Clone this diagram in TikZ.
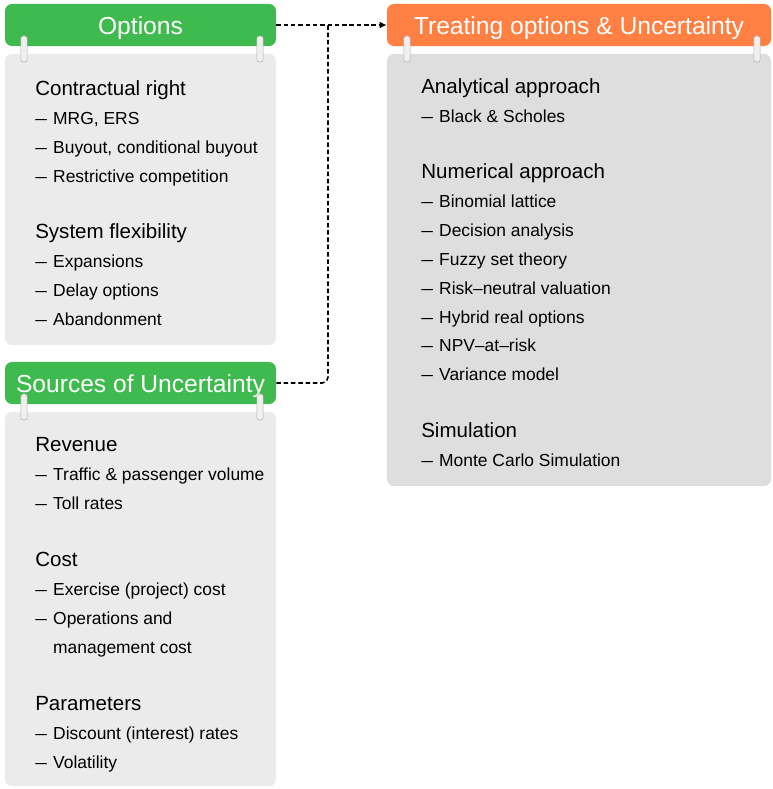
\documentclass[tikz,border=0pt]{standalone}
\usepackage{fontspec}
\setmainfont{Liberation Sans}
\definecolor{optgreen}{RGB}{62, 186, 78}
\definecolor{treatorange}{RGB}{255, 128, 66}
\definecolor{boxlight}{RGB}{235, 235, 235}
\definecolor{boxdark}{RGB}{222, 222, 222}
\usetikzlibrary{arrows.meta, positioning}
\newcommand{\grphead}[1]{{\fontsize{14.6}{20.6}\selectfont #1}}
\newcommand{\itm}{\scalebox{1.2}[1]{–}\hspace{0.36em}}

\begin{document}
\begin{tikzpicture}[
  x=0.025cm, y=-0.025cm,
  hdr/.style={rounded corners=5pt, minimum height=1.05cm, inner sep=0},
  hdrlbl/.style={text=white, text height=12.5pt, text depth=0pt, inner sep=0, font=\fontsize{17.5}{20}\selectfont},
  body/.style={rounded corners=5pt, inner sep=0},
  ring/.style={draw=gray!60, fill=gray!12, rounded corners=1.8pt, minimum width=0.16cm, minimum height=0.65cm, inner sep=0},
  txt/.style={anchor=north west, align=left, inner sep=0, font=\fontsize{12.4}{20.6}\selectfont},
  arr/.style={-{Latex[length=5pt, width=5pt]}, line width=1.1pt, dash pattern=on 3.2pt off 2pt},
]
  \useasboundingbox (0,0) rectangle (772,789);

  % boxes
  \node[body, fill=boxlight, minimum width=6.775cm, minimum height=7.275cm] (optbody) at (140.5,199.5) {};
  \node[body, fill=boxlight, minimum width=6.775cm, minimum height=9.35cm] (srcbody) at (140.5,599) {};
  \node[body, fill=boxdark, minimum width=9.6cm, minimum height=10.8cm] (trtbody) at (579,270) {};

  \node[hdr, fill=optgreen, minimum width=6.775cm] (opt) at (140.5,25) {};
  \node[hdrlbl] (optlbl) at (140.5,26) {Options};
  \node[hdr, fill=optgreen, minimum width=6.775cm] (src) at (140.5,383) {};
  \node[hdrlbl] (srclbl) at (140.5,384) {Sources of Uncertainty};
  \node[hdr, fill=treatorange, minimum width=9.6cm] (trt) at (579,25) {};
  \node[hdrlbl] (trtlbl) at (579,26) {Treating options \& Uncertainty};

  % rings
  \node[ring] (r1) at (24,49) {};
  \node[ring] (r2) at (260,49) {};
  \node[ring] (r3) at (24,407) {};
  \node[ring] (r4) at (260,407) {};
  \node[ring] (r5) at (407,49) {};
  \node[ring] (r6) at (757,49) {};

  % texts
  \node[txt] (contract) at (35,80) {\grphead{Contractual right}\\ \itm MRG, ERS\\ \itm Buyout, conditional buyout\\ \itm Restrictive competition};
  \node[txt] (flex) at (35,223) {\grphead{System flexibility}\\ \itm Expansions\\ \itm Delay options\\ \itm Abandonment};

  \node[txt] (revenue) at (35,437) {\grphead{Revenue}\\ \itm Traffic \& passenger volume\\ \itm Toll rates};
  \node[txt] (cost) at (35,552) {\grphead{Cost}\\ \itm Exercise (project) cost\\ \itm Operations and\\ \phantom{\itm}management cost};
  \node[txt] (param) at (35,696) {\grphead{Parameters}\\ \itm Discount (interest) rates\\ \itm Volatility};

  \node[txt] (analytic) at (421,78) {\grphead{Analytical approach}\\ \itm Black \& Scholes};
  \node[txt] (numeric) at (421,163) {\grphead{Numerical approach}\\ \itm Binomial lattice\\ \itm Decision analysis\\ \itm Fuzzy set theory\\ \itm Risk–neutral valuation\\ \itm Hybrid real options\\ \itm NPV–at–risk\\ \itm Variance model};
  \node[txt] (simul) at (421,422) {\grphead{Simulation}\\ \itm Monte Carlo Simulation};

  % connectors
  \coordinate (jn) at (328,25);
  \draw[arr] (opt) -- (trt);
  \draw[line width=1.1pt, dash pattern=on 3.2pt off 2pt, rounded corners=4pt] (src) -| (jn);
\end{tikzpicture}
\end{document}
